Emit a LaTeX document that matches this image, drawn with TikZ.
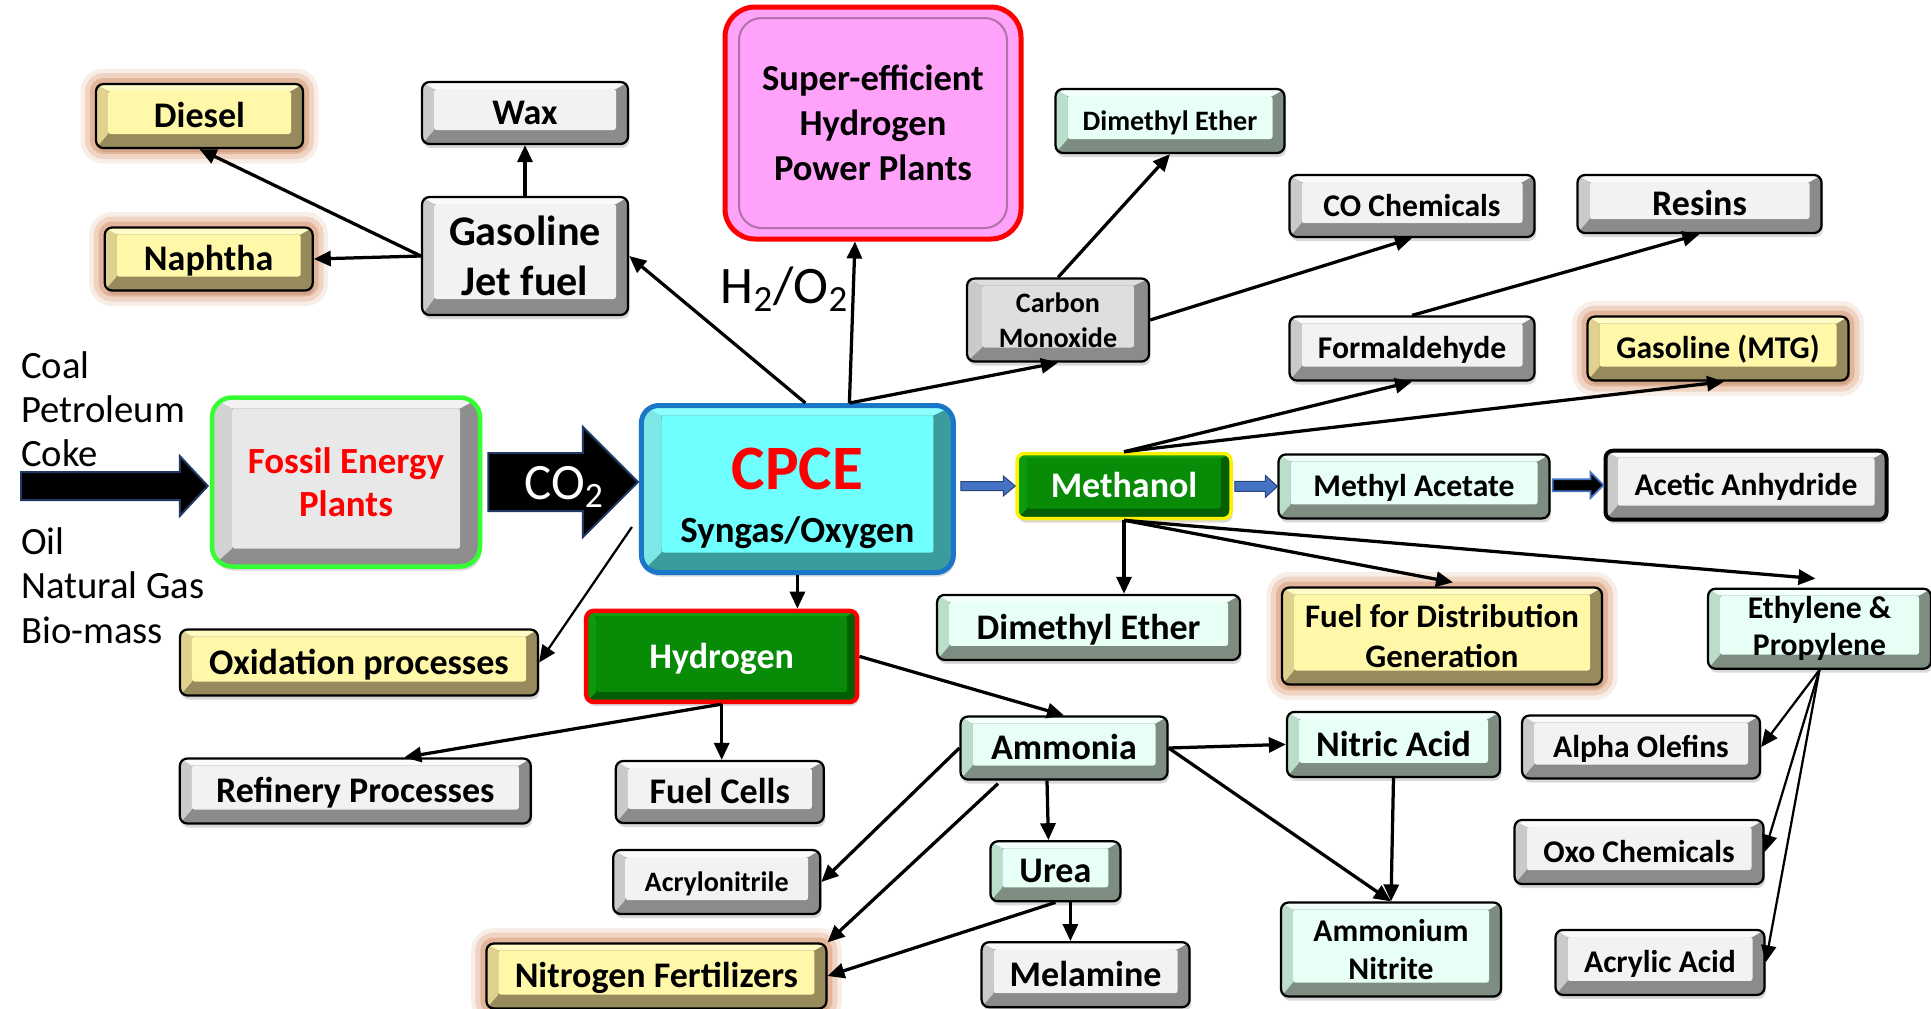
\documentclass[tikz,border=0pt]{standalone}
\usepackage{fontspec}
\setmainfont{Carlito}
\usetikzlibrary{arrows.meta,calc,shadows}
\definecolor{grayface}{HTML}{F2F2F2}
\definecolor{graytop}{HTML}{FAFAFA}
\definecolor{grayleft}{HTML}{CACACA}
\definecolor{graydark}{HTML}{8B8B8B}
\definecolor{coface}{HTML}{DFDEDF}
\definecolor{mintface}{HTML}{E8FFF5}
\definecolor{minttop}{HTML}{F2FFFA}
\definecolor{mintleft}{HTML}{BADEC9}
\definecolor{mintdark}{HTML}{7D8D81}
\definecolor{yelface}{HTML}{FFF8A8}
\definecolor{yeltop}{HTML}{FFFBC4}
\definecolor{yelleft}{HTML}{E0D28E}
\definecolor{yeldark}{HTML}{978A5D}
\definecolor{glowc}{HTML}{C8703A}
\definecolor{grnface}{HTML}{088C08}
\definecolor{grntop}{HTML}{12A012}
\definecolor{grnleft}{HTML}{0B9A0B}
\definecolor{grndark}{HTML}{045F04}
\definecolor{cyface}{HTML}{70FFFF}
\definecolor{cytop}{HTML}{8CFFFF}
\definecolor{cyleft}{HTML}{7EE6E6}
\definecolor{cydark}{HTML}{3C9C9C}
\definecolor{cpceblue}{HTML}{1A76C6}
\definecolor{fosface}{HTML}{E8E8E8}
\definecolor{fostop}{HTML}{F2F2F2}
\definecolor{fosleft}{HTML}{D2D2D2}
\definecolor{fosdark}{HTML}{8E8E8E}
\definecolor{fosgreen}{HTML}{33FF33}
\definecolor{pinkface}{HTML}{FFA3FA}
\definecolor{pinkedge}{HTML}{B070AA}
\definecolor{flowblue}{HTML}{4472C4}
\definecolor{navy}{HTML}{1F3864}

\begin{document}
\begin{tikzpicture}[x=0.02cm, y=-0.02cm,
  cface/.initial=grayface, ctop/.initial=graytop,
  cleft/.initial=grayleft, cdark/.initial=graydark,
  bvside/.initial=0.24cm, bvtop/.initial=0.14cm, bvbot/.initial=0.28cm,
  wh/.style 2 args={minimum width=#1*0.02cm, minimum height=#2*0.02cm},
  bevel/.style={draw=black, line width=0.045cm, rounded corners=0.15cm,
    inner sep=0pt, align=center, text=black,
    drop shadow={shadow xshift=0.03cm, shadow yshift=-0.08cm, opacity=0.3},
    path picture={
      \path (path picture bounding box.south west) coordinate (pa)
            (path picture bounding box.north west) coordinate (pb)
            (path picture bounding box.north east) coordinate (pc)
            (path picture bounding box.south east) coordinate (pd)
            ([xshift=\pgfkeysvalueof{/tikz/bvside}, yshift=\pgfkeysvalueof{/tikz/bvbot}]pa) coordinate (qa)
            ([xshift=\pgfkeysvalueof{/tikz/bvside}, yshift=-\pgfkeysvalueof{/tikz/bvtop}]pb) coordinate (qb)
            ([xshift=-\pgfkeysvalueof{/tikz/bvside}, yshift=-\pgfkeysvalueof{/tikz/bvtop}]pc) coordinate (qc)
            ([xshift=-\pgfkeysvalueof{/tikz/bvside}, yshift=\pgfkeysvalueof{/tikz/bvbot}]pd) coordinate (qd);
      \fill[fill=\pgfkeysvalueof{/tikz/cdark}, sharp corners] (pa) rectangle (pc);
      \fill[fill=\pgfkeysvalueof{/tikz/cleft}, sharp corners] (pa) -- (pb) -- (qb) -- (qa) -- cycle;
      \fill[fill=\pgfkeysvalueof{/tikz/ctop}, sharp corners] (pb) -- (pc) -- (qc) -- (qb) -- cycle;
      \fill[fill=\pgfkeysvalueof{/tikz/cface}, rounded corners=0.05cm] (qa) rectangle (qc);
    }},
  gbox/.style={bevel},
  cobox/.style={bevel, cface=coface, ctop=coface, bvside=0.3cm},
  mbox/.style={bevel, cface=mintface, ctop=minttop, cleft=mintleft, cdark=mintdark},
  ybox/.style={bevel, cface=yelface, ctop=yeltop, cleft=yelleft, cdark=yeldark},
  glow/.style={preaction={draw=glowc, draw opacity=0.12, line width=0.62cm},
               preaction={draw=glowc, draw opacity=0.2, line width=0.44cm},
               preaction={draw=glowc, draw opacity=0.3, line width=0.24cm}},
  grbox/.style={bevel, cface=grnface, ctop=grntop, cleft=grnleft, cdark=grndark,
                text=white, bvside=0.2cm, bvtop=0.1cm, bvbot=0.2cm},
  fossil/.style={bevel, draw=fosgreen, line width=0.09cm, rounded corners=0.4cm,
                 cface=fosface, ctop=fostop, cleft=fosleft, cdark=fosdark,
                 bvside=0.4cm, bvtop=0.22cm, bvbot=0.36cm, text=red,
                 font=\bfseries\fontsize{21}{24.4}\selectfont},
  cpcebox/.style={bevel, draw=cpceblue, line width=0.1cm, rounded corners=0.35cm,
                  cface=cyface, ctop=cytop, cleft=cyleft, cdark=cydark,
                  bvside=0.4cm, bvtop=0.2cm, bvbot=0.4cm,
                  font=\bfseries\fontsize{21}{30}\selectfont},
  pinkbox/.style={fill=pinkface, draw=red, line width=0.1cm, rounded corners=0.6cm,
                  inner sep=0pt, align=center, font=\bfseries\fontsize{20.8}{25.5}\selectfont,
                  path picture={\draw[pinkedge, line width=0.04cm, rounded corners=0.45cm]
                    ([shift={(0.28cm,0.22cm)}]path picture bounding box.south west) rectangle
                    ([shift={(-0.28cm,-0.22cm)}]path picture bounding box.north east);}},
  tsmall/.style={font=\bfseries\fontsize{16}{19}\selectfont, text height=10.3pt, text depth=0pt},
  tmid/.style={font=\bfseries\fontsize{18}{21}\selectfont, text height=11.6pt, text depth=0pt},
  tbig/.style={font=\bfseries\fontsize{20.5}{24}\selectfont, text height=13.2pt, text depth=0pt},
  conn/.style={-{Triangle[length=0.34cm,width=0.3cm]}, line width=0.065cm},
  connthin/.style={conn, line width=0.045cm},
  fatarrow/.style={fill=black, draw=navy, line width=0.04cm},
  blueflow/.style={fill=flowblue, draw=flowblue!60!black, line width=0.02cm},
  darkflow/.style={fill=black, draw=flowblue, line width=0.035cm},
  srctext/.style={font=\fontsize{22}{26}\selectfont, inner sep=0pt, anchor=base west}
]
\useasboundingbox (0,0) rectangle (1931,1008);

% feedstocks
\node[srctext] (coal) at (21,378) {Coal};
\node[srctext] (pet) at (21,422) {Petroleum};
\node[srctext] (coke) at (21,466) {Coke};
\node[srctext] (oil) at (21,554) {Oil};
\node[srctext] (ngas) at (21,598) {Natural Gas};
\node[srctext] (bio) at (21,643) {Bio-mass};
\coordinate (src) at (21,486);

% main boxes
\node[fossil, wh={268}{169}] (fep) at (346,482) {Fossil Energy\\Plants};
\node[cpcebox, wh={312}{167}] (cpce) at (797.4,489)
  {{\fontsize{36}{30}\selectfont\color{red}\rule{0pt}{34pt}CPCE}\\Syngas/Oxygen};
\node[pinkbox, wh={296}{232}] (sup) at (873,123) {Super-efficient\\Hydrogen\\Power Plants};

% fuels side
\node[ybox, glow, tbig, wh={207}{64}] (dsl) at (199.5,116) {Diesel};
\node[gbox, tbig, wh={206}{62}] (wax) at (525,113) {Wax};
\node[ybox, glow, tbig, wh={208}{63}] (nap) at (208.7,259) {Naphtha};
\node[gbox, wh={206}{118}, bvbot=0.32cm, font=\bfseries\fontsize{24}{28.6}\selectfont]
  (gas) at (525,256) {Gasoline\\Jet fuel};
\node[ybox, tbig, wh={358}{66}] (oxi) at (359,662.5) {Oxidation processes};

% carbon monoxide branch
\node[cobox, wh={182}{83}, font=\bfseries\fontsize{16}{20}\selectfont] (co) at (1058,320) {Carbon\\Monoxide};
\node[mbox, tsmall, wh={229}{64}] (dme1) at (1170,121) {Dimethyl Ether};
\node[gbox, tmid, wh={245}{62}] (coc) at (1412,206) {CO Chemicals};
\node[gbox, tbig, wh={244}{58}] (res) at (1699.5,204) {Resins};

% methanol branch
\node[grbox, draw=yellow, line width=0.07cm, tbig, wh={214}{65}] (meth) at (1124,486) {Methanol};
\node[gbox, tmid, wh={245}{64}] (form) at (1412,348.5) {Formaldehyde};
\node[ybox, glow, tmid, wh={261}{64}] (mtg) at (1718,348.5) {Gasoline (MTG)};
\node[mbox, tmid, wh={271}{64}] (mac) at (1414,486.4) {Methyl Acetate};
\node[gbox, tmid, line width=0.08cm, wh={281}{69}] (aan) at (1746,485.2) {Acetic Anhydride};
\node[mbox, tbig, wh={303}{65}] (dme2) at (1088.6,627.4) {Dimethyl Ether};
\node[ybox, glow, wh={320}{97}, font=\bfseries\fontsize{18.7}{22.3}\selectfont]
  (fdg) at (1442,636) {Fuel for Distribution\\Generation};
\node[mbox, wh={223}{80}, font=\bfseries\fontsize{18}{21}\selectfont]
  (eth) at (1819.5,628.7) {Ethylene \&\\Propylene};
\node[gbox, tmid, wh={238}{63}] (alp) at (1641,747) {Alpha Olefins};
\node[gbox, tmid, wh={249}{64}] (oxo) at (1639,852) {Oxo Chemicals};
\node[gbox, tmid, wh={209}{65}] (acr) at (1660,962.4) {Acrylic Acid};

% hydrogen branch
\node[grbox, draw=red, line width=0.09cm, tbig, wh={271}{91}] (hyd) at (721.7,656.4) {Hydrogen};
\node[gbox, tbig, wh={351}{65}] (ref) at (355.3,791) {Refinery Processes};
\node[gbox, tbig, wh={208}{62}] (fc) at (719.8,792) {Fuel Cells};
\node[gbox, tsmall, wh={207}{64}] (acn) at (716.7,882) {Acrylonitrile};
\node[ybox, glow, tbig, wh={340}{65}] (nfe) at (656.4,976) {Nitrogen Fertilizers};
\node[mbox, tbig, wh={207}{63}] (amm) at (1064,748) {Ammonia};
\node[mbox, tbig, wh={130}{60}] (ure) at (1055.4,871.3) {Urea};
\node[gbox, tbig, wh={208}{65}] (mel) at (1085.6,974.7) {Melamine};
\node[mbox, tbig, wh={213}{65}] (nit) at (1393.5,744.4) {Nitric Acid};
\node[mbox, wh={220}{94}, font=\bfseries\fontsize{18}{21.6}\selectfont]
  (ani) at (1391,949.5) {Ammonium\\Nitrite};

% block arrows
\draw[fatarrow] ($(src)+(0,-14)$) -- ($(src -| fep.west)+(-30,-14)$)
  -- ($(src -| fep.west)+(-30,-30)$) -- ($(src -| fep.west)+(-2,0)$)
  -- ($(src -| fep.west)+(-30,30)$) -- ($(src -| fep.west)+(-30,14)$)
  -- ($(src)+(0,14)$) -- cycle;
\draw[fatarrow] ($(fep.east)+(6,-29)$) -- ($(fep.east -| cpce.west)+(-56,-29)$)
  -- ($(fep.east -| cpce.west)+(-56,-55)$) -- ($(fep.east -| cpce.west)+(-1,0)$)
  -- ($(fep.east -| cpce.west)+(-56,55)$) -- ($(fep.east -| cpce.west)+(-56,29)$)
  -- ($(fep.east)+(6,29)$) -- cycle;
\node[font=\fontsize{29}{30}\selectfont, text=white, inner sep=0pt, anchor=base] (co2) at (564,499) {CO\textsubscript{2}};
\draw[blueflow] ($(meth.west -| cpce.east)+(5,-4.5)$) -- ($(meth.west)+(-12,-4.5)$)
  -- ($(meth.west)+(-12,-10)$) -- (meth.west) -- ($(meth.west)+(-12,10)$)
  -- ($(meth.west)+(-12,4.5)$) -- ($(meth.west -| cpce.east)+(5,4.5)$) -- cycle;
\draw[blueflow] ($(mac.west -| meth.east)+(2,-5)$) -- ($(mac.west)+(-12,-5)$)
  -- ($(mac.west)+(-12,-11)$) -- (mac.west) -- ($(mac.west)+(-12,11)$)
  -- ($(mac.west)+(-12,5)$) -- ($(mac.west -| meth.east)+(2,5)$) -- cycle;
\draw[darkflow] ($(aan.west -| mac.east)+(2,-6)$) -- ($(aan.west)+(-13,-6)$)
  -- ($(aan.west)+(-13,-13)$) -- (aan.west) -- ($(aan.west)+(-13,13)$)
  -- ($(aan.west)+(-13,6)$) -- ($(aan.west -| mac.east)+(2,6)$) -- cycle;

% connectors
\draw[conn] (gas.west) -- (dsl.south);
\draw[conn] (gas.west) -- (nap.east);
\draw[conn] (gas.north) -- (wax.south);
\draw[conn] ($(cpce.north)+(8,0)$) -- (gas.east);
\draw[conn] ($(cpce.north)+(52,0)$) -- ($(sup.south)+(-18,0)$);
\node[font=\fontsize{30}{32}\selectfont, inner sep=0pt, anchor=base] (h2o2) at (784.5,303) {H\textsubscript{2}/O\textsubscript{2}};
\draw[conn] ($(cpce.north)+(52,0)$) -- (co.south);
\draw[conn] (co.north) -- (dme1.south);
\draw[conn] (co.east) -- (coc.south);
\draw[conn] (meth.north) -- (form.south);
\draw[conn] (meth.north) -- ($(mtg.south)+(6,0)$);
\draw[conn] (form.north) -- (res.south);
\draw[conn] (meth.south) -- (meth.south |- dme2.north);
\draw[conn] (meth.south) -- ($(fdg.north)+(11,-4)$);
\draw[conn] (meth.south) -- ($(eth.north)+(-4,-9)$);
\draw[conn] (cpce.south) -- (cpce.south |- hyd.north);
\draw[connthin] ($(cpce.west)+(-7,38)$) -- (oxi.east);
\draw[conn] (hyd.south) -- ($(ref.north)+(49,0)$);
\draw[conn] (hyd.south) -- (hyd.south |- fc.north);
\draw[conn] (hyd.east) -- (amm.north);
\draw[conn] (amm.west) -- (acn.east);
\draw[conn] ($(amm.south)+(-66,3)$) -- (nfe.north east);
\draw[conn] ($(amm.south)+(-17,0)$) -- ($(ure.north)+(-7,0)$);
\draw[conn] (ure.south) -- (nfe.east);
\draw[conn] ($(ure.south)+(15,0)$) -- ($(ure.south |- mel.north)+(15,0)$);
\draw[conn] (amm.east) -- (nit.west);
\draw[conn] (amm.east) -- (ani.north);
\draw[conn] (nit.south) -- (ani.north);
\draw[connthin] (eth.south) -- (alp.east);
\draw[connthin] (eth.south) -- (oxo.east);
\draw[connthin] (eth.south) -- (acr.east);
\end{tikzpicture}
\end{document}
